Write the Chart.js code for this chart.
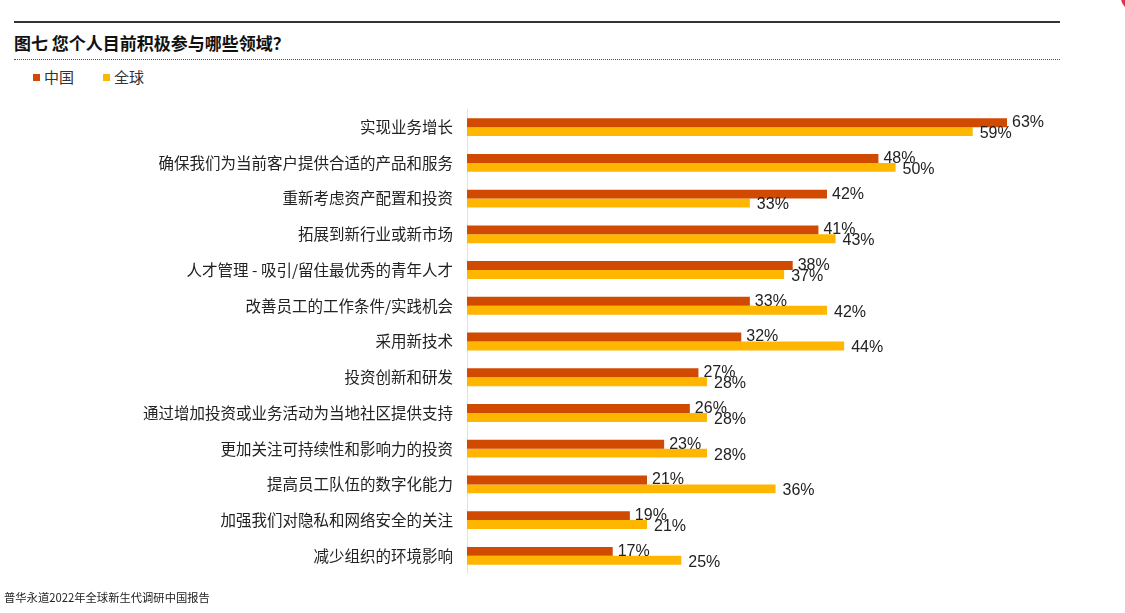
<!DOCTYPE html>
<html>
<head>
<meta charset="utf-8">
<script src="https://cdn.jsdelivr.net/npm/chart.js@4"></script>
<style>
    body { margin: 0; width: 1125px; height: 613px; overflow: hidden; background: #fff; position: relative;
           font-family: "Noto Sans CJK SC", "Liberation Sans", sans-serif; color: #222; }
    .top-line { position: absolute; left: 14px; top: 21px; width: 1046px; height: 0; border-top: 2px solid #333; }
    .dot-line { position: absolute; left: 14px; top: 59px; width: 1046px; height: 0; border-top: 1px dotted #555; }
    .title { position: absolute; left: 14px; top: 30px; font-size: 17px; font-weight: bold; color: #111; }
    .legend { position: absolute; top: 66px; font-size: 15px; color: #333; }
    .legend span.sw { display: inline-block; width: 7px; height: 7px; margin-right: 4px; vertical-align: 2px; }
    .footer { position: absolute; left: 4px; top: 589px; font-size: 11.3px; color: #222; }
    .dot { position: absolute; left: 1121px; top: -14px; width: 24px; height: 24px; border-radius: 50%; background: #e0304a; }
    #wrap { position: absolute; left: 0; top: 86px; width: 1125px; height: 511px; }
</style>
</head>
<body>
<div class="dot"></div>
<div class="top-line"></div>
<div class="title">图七 您个人目前积极参与哪些领域？</div>
<div class="dot-line"></div>
<div class="legend" style="left:33px"><span class="sw" style="background:#d04a02"></span>中国</div>
<div class="legend" style="left:103px"><span class="sw" style="background:#ffb600"></span>全球</div>
<div id="wrap"><canvas id="bar-chart"></canvas></div>
<div class="footer">普华永道2022年全球新生代调研中国报告</div>
<script>
var categories = ["实现业务增长", "确保我们为当前客户提供合适的产品和服务", "重新考虑资产配置和投资",
    "拓展到新行业或新市场", "人才管理 - 吸引/留住最优秀的青年人才", "改善员工的工作条件/实践机会",
    "采用新技术", "投资创新和研发", "通过增加投资或业务活动为当地社区提供支持",
    "更加关注可持续性和影响力的投资", "提高员工队伍的数字化能力", "加强我们对隐私和网络安全的关注",
    "减少组织的环境影响"];
var chinaValues = [63, 48, 42, 41, 38, 33, 32, 27, 26, 23, 21, 19, 17];
var globalValues = [59, 50, 33, 43, 37, 42, 44, 28, 28, 28, 36, 21, 25];

// value labels next to each bar
var valueLabels = {
    id: 'valueLabels',
    afterDatasetsDraw: function (chart) {
        var ctx = chart.ctx;
        ctx.save();
        ctx.font = '16px "Liberation Sans", Arial, sans-serif';
        ctx.fillStyle = '#222';
        ctx.textBaseline = 'middle';
        ctx.textAlign = 'left';
        chart.data.datasets.forEach(function (ds, i) {
            var meta = chart.getDatasetMeta(i);
            var dx = i === 0 ? 5 : 7;
            var dy = i === 0 ? 0 : 2;
            meta.data.forEach(function (el, j) {
                ctx.fillText(ds.data[j] + '%', el.x + dx, el.y + dy);
            });
        });
        ctx.restore();
    }
};

new Chart(document.getElementById("bar-chart"), {
    type: 'bar',
    data: {
        labels: categories,
        datasets: [{
            label: "中国",
            backgroundColor: "#d04a02",
            data: chinaValues
        }, {
            label: "全球",
            backgroundColor: "#ffb600",
            data: globalValues
        }]
    },
    options: {
        indexAxis: 'y',
        responsive: true,
        maintainAspectRatio: false,
        animation: false,
        datasets: { bar: { categoryPercentage: 0.5, barPercentage: 1.0 } },
        layout: { padding: { top: 9, bottom: 6, right: 58, left: 0 } },
        plugins: {
            legend: { display: false },
            tooltip: { enabled: false }
        },
        scales: {
            x: { display: false, min: 0, max: 70 },
            y: {
                afterFit: function (scale) { scale.width = 467; },
                grid: { display: false, drawTicks: false },
                border: { display: true, color: '#e2e2e2', width: 1 },
                ticks: {
                    padding: 14,
                    color: '#222',
                    font: { family: '"Noto Sans CJK SC", sans-serif', size: 15.5 }
                }
            }
        }
    },
    plugins: [valueLabels]
});
</script>
</body>
</html>
